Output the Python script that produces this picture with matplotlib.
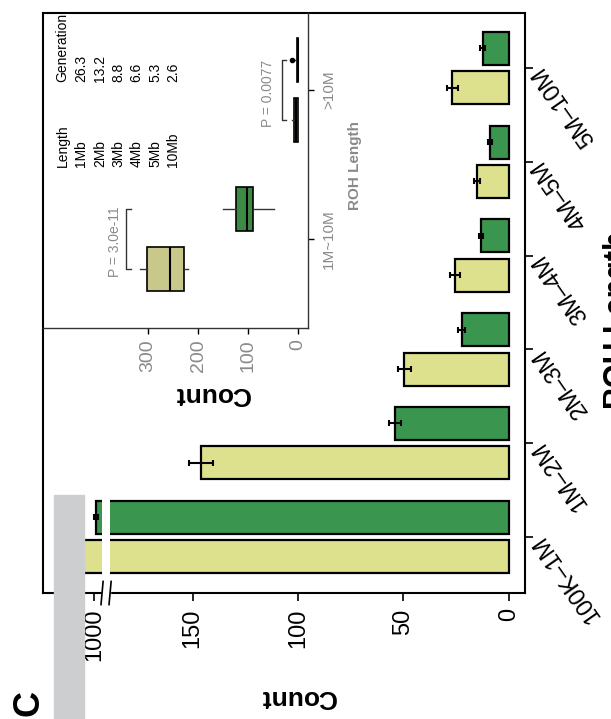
import matplotlib.pyplot as plt
import matplotlib.transforms as mtransforms
from matplotlib.patches import Rectangle
import numpy as np

plt.rcParams['font.family'] = ['Liberation Sans', 'DejaVu Sans']

# ROH length bins and mean counts (yellow = first group, green = second group)
categories = ['100K–1M', '1M–2M', '2M–3M', '3M–4M', '4M–5M', '5M–10M']
yellow_counts = [1130, 146.1, 49.6, 25.6, 15.3, 26.9]
yellow_err = [15, 5.8, 3.0, 2.2, 1.4, 2.6]
green_counts = [990, 54.0, 22.4, 13.3, 9.0, 12.5]
green_err = [8, 2.8, 1.6, 1.0, 1.0, 1.0]
value_ticks = [0, 50, 100, 150, 1000]

# inset: total counts per individual, short vs long ROH
inset_groups = ['1M~10M', '>10M']
inset_yellow = [dict(whislo=220, q1=228, med=256, q3=303, whishi=316, fliers=[]),
                dict(whislo=0, q1=1, med=4, q3=9, whishi=13, fliers=[])]
inset_green = [dict(whislo=48, q1=90, med=103, q3=124, whishi=150, fliers=[]),
               dict(whislo=0, q1=0, med=1, q3=3, whishi=6, fliers=[13])]
p_values = ['P = 3.0e-11', 'P = 0.0077']
count_ticks = [0, 100, 200, 300]

# ROH length -> generations since common ancestor
gen_lengths = ['1Mb', '2Mb', '3Mb', '4Mb', '5Mb', '10Mb']
gen_values = ['26.3', '13.2', '8.8', '6.6', '5.3', '2.6']

YELLOW = '#dde08c'
GREEN = '#3a964e'
BOX_YELLOW = '#c8c88a'
BOX_GREEN = '#3d8a47'
GREY_TXT = '#8a8a8a'

W, H = 611, 719


def fpos(px, py):
    return px / W, 1 - py / H


def brk(v):
    """broken value axis: linear up to the break, compressed above it"""
    v = np.asarray(v, float)
    return np.where(v < 500, v, 196.7 + (v - 1000) * 0.1)


def err_pair(vals, errs):
    vals, errs = np.asarray(vals), np.asarray(errs)
    return [brk(vals) - brk(vals - errs), brk(vals + errs) - brk(vals)]


fig = plt.figure(figsize=(W / 100, H / 100), dpi=100)

# ---- main bar chart (drawn turned on its side) ----
x0, y0 = fpos(43, 593)
x1, y1 = fpos(525, 13)
ax = fig.add_axes([x0, y0, x1 - x0, y1 - y0])

pos = np.arange(len(categories))
off, bh = 0.21, 0.352
ekw = dict(ecolor='black', elinewidth=1.5, capsize=2.5, capthick=1.5)
ax.barh(pos - off, brk(yellow_counts), height=bh, color=YELLOW, edgecolor='black',
        linewidth=1.6, xerr=err_pair(yellow_counts, yellow_err), error_kw=ekw)
ax.barh(pos + off, brk(green_counts), height=bh, color=GREEN, edgecolor='black',
        linewidth=1.6, xerr=err_pair(green_counts, green_err), error_kw=ekw)

ax.set_xlim(220.9, -7.6)
ax.set_ylim(-0.597, 5.586)

# white gap through the two long bars at the axis break
ax.fill_betweenx([-off - bh / 2 - 0.03, off + bh / 2 + 0.03], 189.1, 192.9,
                 color='white', zorder=4, linewidth=0)

ax.set_xticks(brk(value_ticks))
ax.set_xticklabels([str(v) for v in value_ticks])
ax.tick_params(axis='x', labelrotation=90, labelsize=17, length=6, width=1.2, pad=5)

ax.yaxis.tick_right()
ax.set_yticks(pos)
ax.set_yticklabels(categories)
ax.tick_params(axis='y', labelsize=17, length=6, width=1.2, pad=3)
for lab in ax.get_yticklabels():
    lab.set_rotation(125)
    lab.set_rotation_mode('anchor')
    lab.set_ha('right')
    lab.set_va('center')

for sp in ax.spines.values():
    sp.set_linewidth(1.5)

# break marks on the value axis
tr = mtransforms.blended_transform_factory(ax.transData, ax.transAxes)
ax.add_patch(Rectangle((189.1, -0.01), 3.8, 0.02, transform=tr, color='white',
                       zorder=5, clip_on=False))
for xb in (192.9, 189.1):
    ax.plot([xb + 0.5, xb - 0.5], [-0.02, 0.02], transform=tr, color='black',
            lw=1.2, clip_on=False, zorder=6)

fig.text(*fpos(298, 697), 'Count', rotation=180, ha='center', va='center',
         fontsize=19, fontweight='bold')
fig.text(*fpos(603, 320), 'ROH Length', rotation=90, ha='left', va='center',
         fontsize=22, fontweight='bold')
fig.text(*fpos(29, 703), 'C', rotation=90, ha='center', va='center',
         fontsize=26, fontweight='bold')

# ---- inset box plot ----
ix0, iy0 = fpos(43, 328)
ix1, iy1 = fpos(308, 13)
axi = fig.add_axes([ix0, iy0, ix1 - ix0, iy1 - iy0])
axi.patch.set_alpha(0)

ipos = np.arange(len(inset_groups))
bkw = dict(orientation='horizontal', widths=0.295, patch_artist=True, showcaps=False,
           medianprops=dict(color='black', lw=1.5),
           whiskerprops=dict(color='#333333', lw=1),
           flierprops=dict(marker='o', markersize=3, markerfacecolor='black',
                           markeredgecolor='black'))
axi.bxp(inset_yellow, positions=ipos - 0.2,
        boxprops=dict(facecolor=BOX_YELLOW, edgecolor='black', lw=1.2), **bkw)
axi.bxp(inset_green, positions=ipos + 0.2,
        boxprops=dict(facecolor=BOX_GREEN, edgecolor='black', lw=1.2), **bkw)

axi.set_xlim(510, -20)
axi.set_ylim(-0.597, 1.517)
axi.set_xticks(count_ticks)
axi.set_xticklabels([str(v) for v in count_ticks])
axi.tick_params(axis='x', labelrotation=90, labelsize=14, labelcolor=GREY_TXT,
                length=4, width=1, pad=4)
axi.yaxis.tick_right()
axi.set_yticks(ipos)
axi.set_yticklabels(inset_groups)
axi.tick_params(axis='y', labelrotation=90, labelsize=11, labelcolor=GREY_TXT,
                length=4, width=1, pad=6)
for lab in axi.get_yticklabels():
    lab.set_va('center')
for side in ('left', 'top'):
    axi.spines[side].set_visible(False)
for side in ('right', 'bottom'):
    axi.spines[side].set_linewidth(1)
    axi.spines[side].set_color('#333333')

# significance brackets
brackets = [(344, 334, 366), (32, 24, 60)]
for g, (xb, xt, xtxt), p in zip(ipos, brackets, p_values):
    axi.plot([xt, xb, xb, xt], [g - 0.2, g - 0.2, g + 0.2, g + 0.2],
             color='#333333', lw=1)
    axi.text(xtxt, g - 0.02, p, rotation=90, ha='center', va='center',
             fontsize=10, color=GREY_TXT)

fig.text(*fpos(212, 394), 'Count', rotation=180, ha='center', va='center',
         fontsize=19, fontweight='bold')
fig.text(*fpos(355, 165), 'ROH Length', rotation=90, ha='center', va='center',
         fontsize=11, fontweight='bold', color=GREY_TXT)

# length / generation table
fig.text(*fpos(62.5, 167), 'Length', rotation=90, ha='center', va='bottom', fontsize=10)
fig.text(*fpos(62.5, 82), 'Generation', rotation=90, ha='center', va='bottom', fontsize=10)
for i, (ln, gv) in enumerate(zip(gen_lengths, gen_values)):
    xc = 81.5 + 18.4 * i
    fig.text(*fpos(xc, 167), ln, rotation=90, ha='center', va='bottom', fontsize=10)
    fig.text(*fpos(xc, 82), gv, rotation=90, ha='center', va='bottom', fontsize=10)

# grey strip along the lower left edge
fig.patches.append(Rectangle(fpos(54, 719), 30 / W, (719 - 495) / H,
                             transform=fig.transFigure, color='#cdcecf', zorder=10))

fig.savefig('out.png', dpi=100)
